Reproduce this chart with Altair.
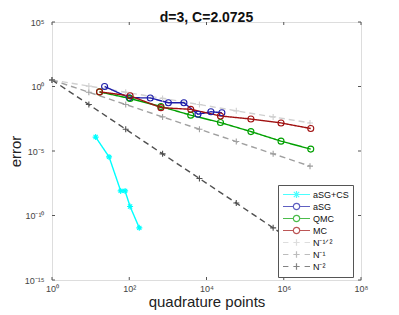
import altair as alt
import pandas as pd

# ---------------- data ----------------
series_names = ["aSG+CS", "aSG", "QMC", "MC", "N⁻¹ᐟ²", "N⁻¹", "N⁻²"]
series_colors = ["#00ffff", "#1c1ca8", "#00a000", "#a01010", "#d0d0d0", "#a0a0a0", "#505050"]

asgcs_n = [13.5, 30, 60, 78, 105, 182]
asgcs_err = [1.2e-4, 3.5e-6, 8.1e-9, 8.1e-9, 5.0e-10, 1.1e-11]
asg_n = [23, 100, 350, 1030, 2600, 6000, 13000, 25000]
asg_err = [1.0, 0.135, 0.13, 0.055, 0.055, 0.0071, 0.011, 0.0093]
qmc_n = [17, 105, 660, 3900, 23000, 141000, 850000, 5000000]
qmc_err = [0.38, 0.117, 0.028, 0.006, 0.0016, 3.2e-4, 5.8e-5, 1.4e-5]
mc_n = [17, 105, 660, 3900, 23000, 141000, 850000, 5000000]
mc_err = [0.38, 0.19, 0.023, 0.017, 0.0052, 0.003, 0.0015, 0.00055]
ref_n = [1, 9, 81, 729, 6561, 59049, 531441, 4782969]
ref_half = [3.2, 1.07, 0.36, 0.12, 0.04, 0.013, 0.0044, 0.0015]
ref_one = [3.2, 0.36, 0.040, 0.0044, 4.9e-4, 5.4e-5, 6.0e-6, 6.7e-7]
ref_two = [3.2, 0.040, 4.9e-4, 6.0e-6, 7.4e-8, 9.2e-10, 1.1e-11, 1.4e-13]

x_tick_vals = [1, 1e2, 1e4, 1e6, 1e8]
x_tick_exps = [0, 2, 4, 6, 8]
x_tick_labels = ["10⁰", "10²", "10⁴", "10⁶", "10⁸"]
y_tick_vals = [1e-15, 1e-10, 1e-5, 1, 1e5]
y_tick_exps = [-15, -10, -5, 0, 5]
y_tick_labels = ["10⁻¹⁵", "10⁻¹⁰", "10⁻⁵", "10⁰", "10⁵"]

# ---------------- build table ----------------
rows = []
for name, ns, es in [
    (series_names[4], ref_n, ref_half),
    (series_names[5], ref_n, ref_one),
    (series_names[6], ref_n, ref_two),
    (series_names[0], asgcs_n, asgcs_err),
    (series_names[1], asg_n, asg_err),
    (series_names[2], qmc_n, qmc_err),
    (series_names[3], mc_n, mc_err),
]:
    for i, (n, e) in enumerate(zip(ns, es)):
        rows.append({"series": name, "N": n, "err": e, "idx": i})
df = pd.DataFrame(rows)

W, H = 309, 258
FONT = "Liberation Sans"

star = "M-1,0L1,0M0,-1L0,1M-0.7,-0.7L0.7,0.7M-0.7,0.7L0.7,-0.7"
plus = "M-1,0L1,0M0,-1L0,1"
point_shapes = [star, "circle", "circle", "circle", plus, plus, plus]

# legend glyphs: unit = 4.5 px (symbol size 81); line from -1 to 5 units, marker at 2
lstar = "M-1,0L5,0M2,-0.8L2,0.8M1.4,-0.6L2.6,0.6M1.4,0.6L2.6,-0.6"
lcirc = ("M-1,0L1.3,0M2.7,0L5,0M1.3,0A0.7,0.7,0,1,1,2.7,0"
         "A0.7,0.7,0,1,1,1.3,0")
ldash = "M-1,0L0.2,0M1.3,0L2.7,0M2,-0.7L2,0.7M3.8,0L5,0"
legend_shapes = [lstar, lcirc, lcirc, lcirc, ldash, ldash, ldash]

def exp_label_expr(exps, labels):
    e = "round(log(datum.value)/LN10)"
    s = "''"
    for ex, lb in zip(reversed(exps), reversed(labels)):
        s = f"{e} == {ex} ? '{lb}' : ({s})"
    return s

xscale = alt.Scale(type="log", domain=[1, 1e8])
yscale = alt.Scale(type="log", domain=[1e-15, 1e5])

x_enc = alt.X("N:Q", scale=xscale, axis=alt.Axis(
    values=x_tick_vals, labelExpr=exp_label_expr(x_tick_exps, x_tick_labels),
    title="quadrature points", ticks=False, domain=False, grid=False,
    labelFontSize=9, labelColor="#444", labelFont=FONT, labelPadding=4,
    titleFontSize=15, titleFont=FONT, titleFontWeight="normal", titleColor="#222",
    titleBaseline="alphabetic", titleY=26, labelFlush=False))
y_enc = alt.Y("err:Q", scale=yscale, axis=alt.Axis(
    values=y_tick_vals, labelExpr=exp_label_expr(y_tick_exps, y_tick_labels),
    title="error", ticks=False, domain=False, grid=False,
    labelFontSize=9, labelColor="#444", labelFont=FONT, labelPadding=8,
    titleFontSize=15, titleFont=FONT, titleFontWeight="normal", titleColor="#222",
    titlePadding=1, labelFlush=False))

color_scale = alt.Scale(domain=series_names, range=series_colors)

lines = alt.Chart(df).mark_line(clip=True).encode(
    x=x_enc, y=y_enc,
    color=alt.Color("series:N", scale=color_scale, legend=None),
    strokeDash=alt.StrokeDash("series:N", scale=alt.Scale(
        domain=series_names,
        range=[[1, 0], [1, 0], [1, 0], [1, 0], [6, 4], [6, 4], [6, 4]]), legend=None),
    strokeWidth=alt.StrokeWidth("series:N", scale=alt.Scale(
        domain=series_names, range=[1.4, 1.4, 1.4, 1.4, 1, 1, 1]), legend=None),
    order="idx:Q",
)

points = alt.Chart(df).mark_point(filled=False, size=36, strokeWidth=1.1, opacity=1).encode(
    x="N:Q", y="err:Q",
    color=alt.Color("series:N", scale=color_scale, legend=None),
    shape=alt.Shape("series:N", scale=alt.Scale(domain=series_names, range=point_shapes),
                    legend=None),
)

leg = alt.Legend(orient="none", legendX=226, legendY=163, title=None,
                 strokeColor="#555", fillColor="white", padding=4,
                 labelFontSize=9, labelFont=FONT, labelColor="#111",
                 labelOffset=20, symbolStrokeWidth=1.2, rowPadding=-2,
                 symbolSize=81)

legend_layer = alt.Chart(df).transform_filter("false").mark_point(
    filled=False, size=81, strokeWidth=1.2).encode(
    x="N:Q", y="err:Q",
    color=alt.Color("series:N", scale=alt.Scale(domain=series_names, range=series_colors),
                    legend=leg),
    shape=alt.Shape("series:N", scale=alt.Scale(domain=series_names, range=legend_shapes),
                    legend=leg),
)

# inner ticks (MATLAB-style box)
xt = pd.DataFrame({"N": x_tick_vals})
yt = pd.DataFrame({"err": y_tick_vals})
tick_col = "#555"
xt_bot = alt.Chart(xt).mark_rule(color=tick_col, strokeWidth=1).encode(
    x="N:Q", y=alt.value(H - 3), y2=alt.value(H))
xt_top = alt.Chart(xt).mark_rule(color=tick_col, strokeWidth=1).encode(
    x="N:Q", y=alt.value(0), y2=alt.value(3))
yt_left = alt.Chart(yt).mark_rule(color=tick_col, strokeWidth=1).encode(
    y="err:Q", x=alt.value(0), x2=alt.value(3))
yt_right = alt.Chart(yt).mark_rule(color=tick_col, strokeWidth=1).encode(
    y="err:Q", x=alt.value(W - 3), x2=alt.value(W))

chart = alt.layer(
    xt_bot, xt_top, yt_left, yt_right, lines, points, legend_layer
).resolve_scale(
    color="independent", shape="independent"
).properties(
    width=W, height=H,
    title=alt.Title("d=3, C=2.0725", fontSize=14, font=FONT, fontWeight="bold",
                    color="#111", offset=-7),
    autosize=alt.AutoSizeParams(type="none"),
    padding={"left": 44, "top": 14, "right": 25, "bottom": 31},
).configure_view(
    stroke="#555", strokeWidth=1
).configure(background="white")

chart.save("out.html", embed_options={"renderer": "svg", "actions": False})
